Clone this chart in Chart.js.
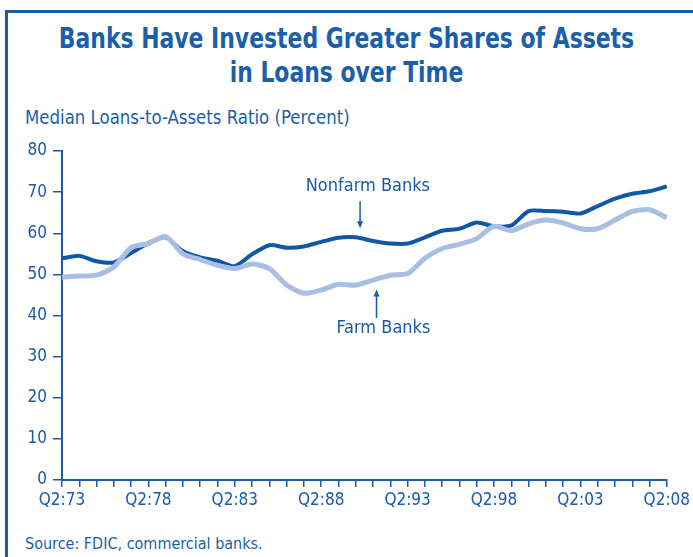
<!DOCTYPE html>
<html>
<head>
<meta charset="utf-8">
<script src="https://cdn.jsdelivr.net/npm/chart.js@4"></script>
<style>
  html, body { margin: 0; padding: 0; background: #fff; }
  #wrap { position: relative; width: 693px; height: 557px; overflow: hidden; }
  #frame {
    position: absolute; left: 5px; top: 10px; width: 700px; height: 600px;
    border-left: 3.5px solid #1a5aa8; border-top: 3.5px solid #1a5aa8;
  }
  .txt { position: absolute; color: #1b5faa; font-family: "Liberation Sans Narrow", "DejaVu Sans Condensed", sans-serif; white-space: nowrap; }
  #title { left: 0; width: 693px; top: 21px; text-align: center; font-weight: bold; font-size: 29px; line-height: 34px;
    transform: scaleX(0.84); transform-origin: 50% 50%; }
  #sub { left: 25px; top: 106px; font-size: 19px; transform: scaleX(0.97); transform-origin: 0 50%; }
  #src { left: 25px; top: 534px; font-size: 16px; }
  canvas { position: absolute; left: 0; top: 0; }
</style>
</head>
<body>
<div id="wrap">
  <div id="frame"></div>
  <div class="txt" id="title">Banks Have Invested Greater Shares of Assets<br>in Loans over Time</div>
  <div class="txt" id="sub">Median Loans-to-Assets Ratio (Percent)</div>
  <div class="txt" id="src">Source: FDIC, commercial banks.</div>
  <canvas id="chart" width="693" height="557"></canvas>
</div>
<script>
// annual values, Q2 of each year 1973-2008
const years = ['1973','1974','1975','1976','1977','1978','1979','1980','1981','1982',
  '1983','1984','1985','1986','1987','1988','1989','1990','1991','1992',
  '1993','1994','1995','1996','1997','1998','1999','2000','2001','2002',
  '2003','2004','2005','2006','2007','2008'];
const nonfarm = [53.9, 54.5, 53.2, 52.9, 55.2, 57.6, 59.0, 55.6, 54.1, 53.3,
  52.0, 54.9, 57.1, 56.5, 56.8, 57.9, 58.9, 59.0, 58.1, 57.5,
  57.5, 59.0, 60.6, 61.1, 62.6, 61.7, 61.9, 65.4, 65.4, 65.2,
  64.8, 66.6, 68.4, 69.6, 70.2, 71.4];
const farm = [49.3, 49.6, 49.8, 51.8, 56.5, 57.5, 59.2, 55.0, 53.6, 52.2,
  51.4, 52.5, 51.4, 47.4, 45.4, 46.2, 47.6, 47.4, 48.6, 49.8,
  50.2, 53.9, 56.3, 57.3, 58.7, 61.7, 60.6, 62.3, 63.2, 62.5,
  61.1, 61.1, 63.2, 65.3, 65.7, 63.8];
const yTicks = [0, 10, 20, 30, 40, 50, 60, 70, 80];

const BLUE = '#1a5aa8';
const FONT = '"Liberation Sans Narrow", "DejaVu Sans Condensed", sans-serif';

// text labels with arrows, placed in data coordinates
const notes = [
  { text: 'Nonfarm Banks', x: 17.7, y: 71.5, ax: 17.25, from: 67.8, to: 61.2 },
  { text: 'Farm Banks', x: 18.6, y: 37.0, ax: 18.2, from: 39.4, to: 46.3 }
];

const notePlugin = {
  id: 'notes',
  afterDatasetsDraw(chart) {
    const c = chart.ctx, xs = chart.scales.x, ys = chart.scales.y;
    c.save();
    c.fillStyle = BLUE;
    c.strokeStyle = BLUE;
    c.font = '18px ' + FONT;
    c.textAlign = 'center';
    c.textBaseline = 'middle';
    notes.forEach(n => {
      c.fillText(n.text, xs.getPixelForValue(n.x), ys.getPixelForValue(n.y));
      const ax = xs.getPixelForValue(n.ax);
      const y0 = ys.getPixelForValue(n.from), y1 = ys.getPixelForValue(n.to);
      const dir = y1 > y0 ? 1 : -1;
      c.lineWidth = 1.5;
      c.beginPath();
      c.moveTo(ax, y0);
      c.lineTo(ax, y1 - dir * 4);
      c.stroke();
      c.beginPath();
      c.moveTo(ax, y1);
      c.lineTo(ax - 3, y1 - dir * 7);
      c.lineTo(ax + 3, y1 - dir * 7);
      c.closePath();
      c.fill();
    });
    c.restore();
  }
};

new Chart(document.getElementById('chart'), {
  type: 'line',
  data: {
    labels: years,
    datasets: [
      { label: 'Farm Banks', data: farm, borderColor: '#a9bfe2', borderWidth: 5, pointRadius: 0, tension: 0.25, order: 0 },
      { label: 'Nonfarm Banks', data: nonfarm, borderColor: '#0f58a6', borderWidth: 4, pointRadius: 0, tension: 0.25, order: 1 }
    ]
  },
  options: {
    responsive: false,
    animation: false,
    layout: { padding: { left: 0, top: 151, right: 25, bottom: 0 } },
    plugins: { legend: { display: false }, tooltip: { enabled: false } },
    scales: {
      x: {
        offset: false,
        grid: { drawOnChartArea: false, color: BLUE, tickLength: 7, lineWidth: 1.5 },
        border: { color: BLUE, width: 2 },
        ticks: {
          autoSkip: false, maxRotation: 0, padding: 3,
          color: BLUE, font: { family: FONT, size: 17 },
          callback: (v, i) => i % 5 === 0 ? 'Q2:' + years[i].slice(2) : ''
        },
        afterFit: s => { s.height = 77; }
      },
      y: {
        min: 0, max: 80,
        afterBuildTicks: s => { s.ticks = yTicks.map(v => ({ value: v })); },
        grid: { drawOnChartArea: false, color: BLUE, tickLength: 9, lineWidth: 1.5 },
        border: { color: BLUE, width: 2 },
        ticks: { padding: 6, color: BLUE, font: { family: FONT, size: 17 } },
        afterFit: s => { s.width = 62; }
      }
    }
  },
  plugins: [notePlugin]
});
</script>
</body>
</html>
